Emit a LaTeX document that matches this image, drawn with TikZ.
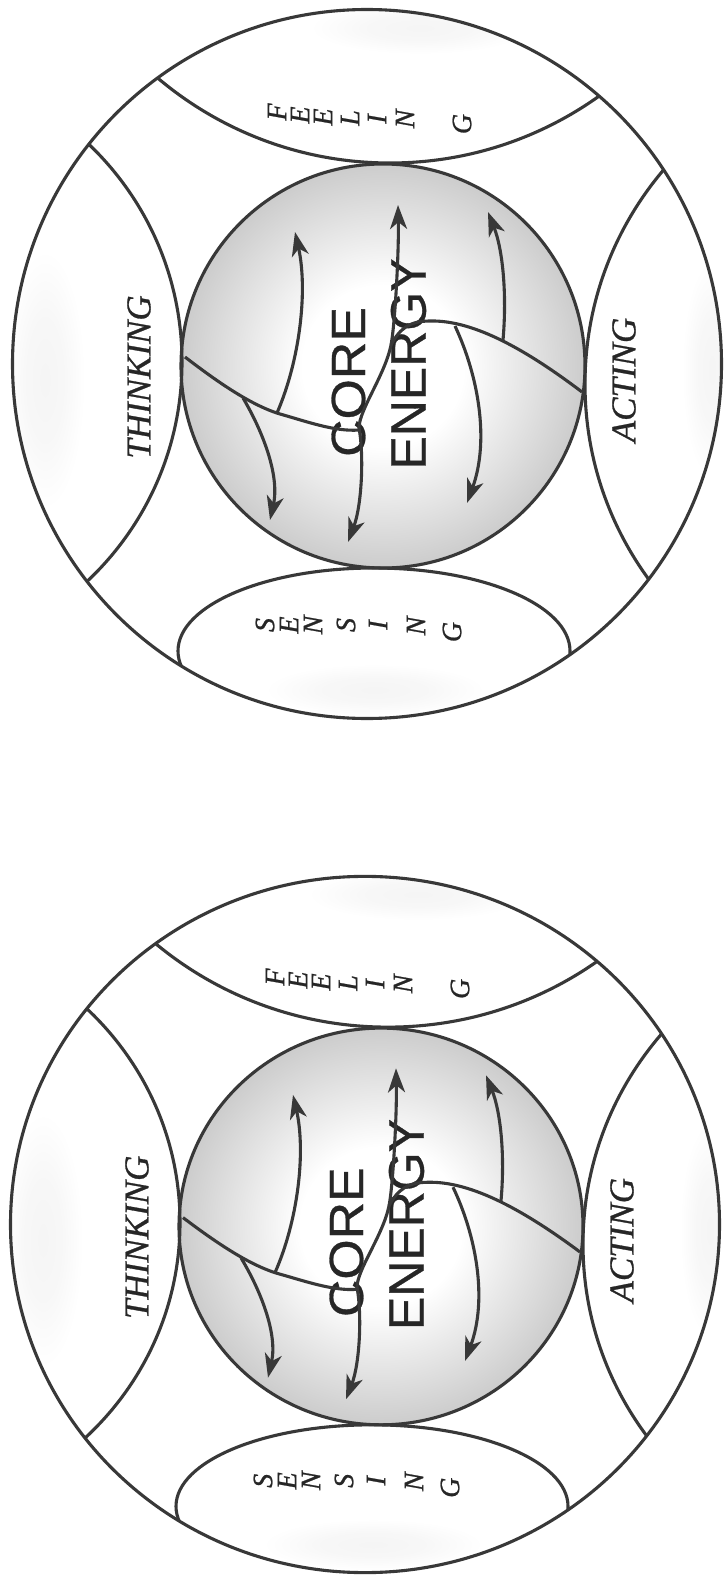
\documentclass[tikz,border=0pt]{standalone}
\usepackage{fontspec}
\usepackage{graphicx}
\setmainfont{Liberation Serif}[ItalicFeatures={FakeBold=0.8}]
\newfontfamily\coresans{Liberation Sans}[FakeBold=0.6]
\usetikzlibrary{arrows.meta}
\pgfdeclareradialshading{coreshade}{\pgfpoint{0bp}{0bp}}{color(0bp)=(white); color(10bp)=(white); color(25bp)=(black!20); color(50bp)=(black!20)}
\pgfdeclareradialshading{blob}{\pgfpoint{0bp}{0bp}}{color(0bp)=(black!4); color(12bp)=(black!3); color(25bp)=(white); color(50bp)=(white)}
\tikzset{
  ln/.style={line width=3.1pt, draw=black!78},
  tip/.tip={Stealth[length=24pt,width=17pt,inset=7pt]},
  arr/.style={ln, -tip},
  darr/.style={ln, tip-tip},
  lab/.style={font=\fontsize{35}{35}\selectfont\itshape, text=black!85, rotate=90, inner sep=0pt},
  ltr/.style={font=\fontsize{28}{28}\selectfont\itshape, text=black!85, rotate=90, inner sep=0pt},
  big/.style={font=\coresans\fontsize{48}{48}\selectfont, text=black!85, rotate=90, inner sep=0pt},
  bigger/.style={big, font=\coresans\fontsize{50}{50}\selectfont},
}
\newcommand\drawdiagram[1]{%
  \coordinate (O#1) at (367,364);
  \coordinate (K#1) at (383,366);
  \fill[white] (O#1) circle[radius=354.5];
  \begin{scope}
    \clip (O#1) circle[radius=354.5];
    \shade[shading=blob] (45,380) ellipse[x radius=40, y radius=130];
    \shade[shading=blob] (712,370) ellipse[x radius=30, y radius=110];
    \shade[shading=blob] (420,28) ellipse[x radius=110, y radius=26];
    \shade[shading=blob] (375,690) ellipse[x radius=110, y radius=26];
  \end{scope}
  \shade[shading=coreshade] (K#1) circle[radius=202];
  \begin{scope}
    \clip (O#1) circle[radius=354.5];
    \draw[ln] (-119,362) circle[radius=301];
    \draw[ln] (916,384) circle[radius=331];
    \draw[ln] (390,-197) circle[radius=360];
    \draw[ln] (374,651) ellipse[x radius=196, y radius=83];
  \end{scope}
  \draw[ln] (O#1) circle[radius=354.5];
  \draw[ln] (K#1) circle[radius=202];
  % labels
  \node[lab] (think#1) at (139,377) {THINKING};
  \node[lab] (act#1) at (624,380) {ACTING};
  \node[big] (core#1) at (348.5,382) {\scalebox{1.08}[1]{CORE}};
  \node[bigger] (energy#1) at (408.5,364) {ENERGY};
  \foreach \ch/\x/\y [count=\k] in {F/277/112,E/300/115,E/323/117,L/350/118,I/377/119,N/405/119,G/462/124}
    \node[ltr] (fe\k#1) at (\x,\y) {\ch};
  \foreach \ch/\x/\y [count=\k] in {S/265/625,E/289/625,N/313/625,S/346/625,I/378/625,N/416/626,G/452/632}
    \node[ltr] (se\k#1) at (\x,\y) {\ch};
  % inner lines
  \coordinate (Lst#1) at (185,357);
  \coordinate (Lmid#1) at (280,414);
  \coordinate (J1#1) at (359,430);
  \coordinate (J2#1) at (391,345);
  \coordinate (Rmid#1) at (430,321);
  \coordinate (Rend#1) at (582,392);
  \coordinate (Bt#1) at (348,542);
  \coordinate (Mt#1) at (359,428);
  \coordinate (Tt#1) at (398,205);
  \draw[ln] (Lst#1) .. controls (215,380) and (250,405) .. (Lmid#1)
                    .. controls (305,421) and (335,432) .. (J1#1);
  \draw[ln] (J2#1) .. controls (400,328) and (410,321) .. (Rmid#1)
                   .. controls (470,320) and (520,345) .. (Rend#1);
  \draw[darr] (Bt#1) .. controls (362,505) and (364,455) .. (Mt#1)
                     .. controls (359,410) and (385,375) .. (J2#1)
                     .. controls (395,325) and (399,250) .. (Tt#1);
  % branch arrows
  \coordinate (ULs#1) at (277,413);
  \coordinate (ULt#1) at (295,232);
  \coordinate (LLs#1) at (243,398);
  \coordinate (LLt#1) at (270,520);
  \coordinate (URs#1) at (503,340);
  \coordinate (URt#1) at (488,212);
  \coordinate (LRs#1) at (455,326);
  \coordinate (LRt#1) at (467,503);
  \draw[arr] (ULs#1) .. controls (300,360) and (308,290) .. (ULt#1);
  \draw[arr] (LLs#1) .. controls (262,430) and (280,475) .. (LLt#1);
  \draw[arr] (URs#1) .. controls (507,295) and (503,250) .. (URt#1);
  \draw[arr] (LRs#1) .. controls (478,375) and (490,440) .. (LRt#1);
}
\begin{document}
\begin{tikzpicture}[x=1pt,y=-1pt]
  \useasboundingbox (0,0) rectangle (723,1578);
  \fill[white] (0,0) rectangle (723,1578);
  \begin{scope}
    \drawdiagram{a}
  \end{scope}
  \begin{scope}[shift={(-2,1224.5)}, yscale=0.982, shift={(0,-364)}]
    \drawdiagram{b}
  \end{scope}
\end{tikzpicture}
\end{document}
